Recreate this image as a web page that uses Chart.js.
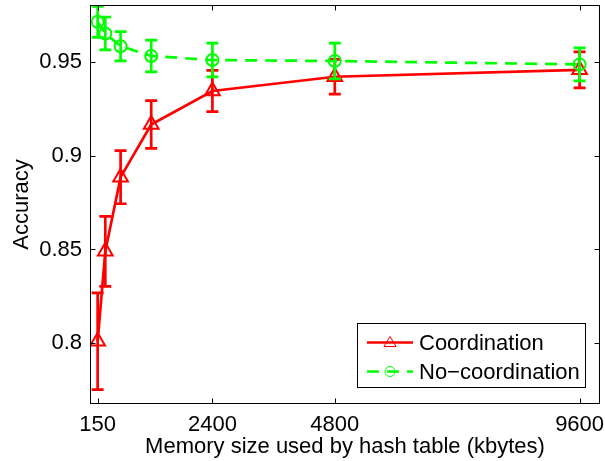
<!DOCTYPE html>
<html>
<head>
<meta charset="utf-8">
<script src="https://cdn.jsdelivr.net/npm/chart.js@4.4.0/dist/chart.umd.min.js"></script>
<style>
  body { margin: 0; background: #fff; }
  #wrap { width: 605px; height: 461px; }
</style>
</head>
<body>
<div id="wrap"><canvas id="myChart"></canvas></div>
<script>
// memory size (kbytes) and mean accuracy with error bar half-widths
const memorySizes = [150, 300, 600, 1200, 2400, 4800, 9600];
const coordAccuracy = [0.801, 0.849, 0.8886, 0.9167, 0.9346, 0.9422, 0.9459];
const coordError = [0.0258, 0.0187, 0.0142, 0.0127, 0.011, 0.0093, 0.0096];
const noCoordAccuracy = [0.9715, 0.9653, 0.9585, 0.9533, 0.9511, 0.9506, 0.9488];
const noCoordError = [0.0083, 0.0088, 0.0078, 0.0085, 0.009, 0.0095, 0.0088];
const xTicks = [150, 2400, 4800, 9600];
const yTicks = [0.8, 0.85, 0.9, 0.95];

const RED = "rgb(255,0,0)";
const GREEN = "rgb(0,255,0)";
const FONT = "'Liberation Sans', Arial, Helvetica, sans-serif";
const FONT_SIZE = 22;

Chart.defaults.font.family = FONT;
Chart.defaults.color = "#000";

function toPoints(values) {
  return memorySizes.map((x, i) => ({ x: x, y: values[i] }));
}

// vertical error bars with caps, drawn right after each dataset
const errorBars = {
  id: 'errorBars',
  afterDatasetDraw(chart, args) {
    const ds = chart.data.datasets[args.index];
    if (!ds.errors) return;
    const ctx = chart.ctx;
    const yScale = chart.scales.y;
    ctx.save();
    ctx.strokeStyle = ds.borderColor;
    ctx.lineWidth = 2.7;
    ctx.setLineDash([]);
    args.meta.data.forEach((pt, i) => {
      const v = ds.data[i].y;
      const top = yScale.getPixelForValue(v + ds.errors[i]);
      const bottom = yScale.getPixelForValue(v - ds.errors[i]);
      ctx.beginPath();
      ctx.moveTo(pt.x, top);
      ctx.lineTo(pt.x, bottom);
      ctx.moveTo(pt.x - 6, top);
      ctx.lineTo(pt.x + 6, top);
      ctx.moveTo(pt.x - 6, bottom);
      ctx.lineTo(pt.x + 6, bottom);
      ctx.stroke();
    });
    ctx.restore();
  }
};

// axes box with inward ticks on all four sides
const boxTicks = {
  id: 'boxTicks',
  afterDatasetsDraw(chart) {
    const ctx = chart.ctx;
    const a = chart.chartArea;
    const xs = chart.scales.x, ys = chart.scales.y;
    const L = Math.round(a.left) + 0.5, R = Math.round(a.right) - 0.5;
    const T = Math.round(a.top) + 0.5, B = Math.round(a.bottom) - 0.5;
    ctx.save();
    ctx.strokeStyle = "#000";
    ctx.lineWidth = 1;
    ctx.strokeRect(L, T, R - L, B - T);
    ctx.beginPath();
    xTicks.forEach(v => {
      const x = Math.round(xs.getPixelForValue(v)) + 0.5;
      ctx.moveTo(x, B); ctx.lineTo(x, B - 5);
      ctx.moveTo(x, T); ctx.lineTo(x, T + 5);
    });
    yTicks.forEach(v => {
      const y = Math.round(ys.getPixelForValue(v)) + 0.5;
      ctx.moveTo(L, y); ctx.lineTo(L + 5, y);
      ctx.moveTo(R, y); ctx.lineTo(R - 5, y);
    });
    ctx.stroke();
    ctx.restore();
  }
};

// legend box in the lower right corner
const boxLegend = {
  id: 'boxLegend',
  afterDraw(chart) {
    const ctx = chart.ctx;
    const x0 = 357, y0 = 323, w = 228, h = 64;
    ctx.save();
    ctx.fillStyle = "#fff";
    ctx.fillRect(x0, y0, w, h);
    ctx.strokeStyle = "#000";
    ctx.lineWidth = 1;
    ctx.strokeRect(x0 + 0.5, y0 + 0.5, w, h);
    const rows = [19.5, 48.5];
    chart.data.datasets.forEach((ds, k) => {
      const y = y0 + rows[k];
      ctx.strokeStyle = ds.borderColor;
      ctx.lineWidth = 2.5;
      ctx.setLineDash(ds.borderDash || []);
      ctx.beginPath();
      ctx.moveTo(x0 + 10, y);
      ctx.lineTo(x0 + 56, y);
      ctx.stroke();
      ctx.setLineDash([]);
      ctx.lineWidth = 1;
      ctx.beginPath();
      if (ds.pointStyle === 'triangle') {
        ctx.moveTo(x0 + 33, y - 6);
        ctx.lineTo(x0 + 39, y + 4);
        ctx.lineTo(x0 + 27, y + 4);
        ctx.closePath();
      } else {
        ctx.arc(x0 + 33, y, 5, 0, Math.PI * 2);
      }
      ctx.stroke();
      ctx.fillStyle = "#000";
      ctx.font = FONT_SIZE + "px " + FONT;
      ctx.textBaseline = "middle";
      ctx.fillText(ds.label, x0 + 62, y + 1);
    });
    ctx.restore();
  }
};

const ctx = document.getElementById('myChart');
const myChart = new Chart(ctx, {
  type: 'scatter',
  data: {
    datasets: [{
      label: "Coordination",
      data: toPoints(coordAccuracy),
      errors: coordError,
      showLine: true,
      borderColor: RED,
      backgroundColor: "rgba(0,0,0,0)",
      borderWidth: 2.7,
      pointStyle: 'triangle',
      pointRadius: 8.5,
      pointBorderWidth: 2,
      pointHoverRadius: 8.5,
      order: 1
    }, {
      label: "No\u2212coordination",
      data: toPoints(noCoordAccuracy),
      errors: noCoordError,
      showLine: true,
      borderColor: GREEN,
      backgroundColor: "rgba(0,0,0,0)",
      borderWidth: 2.7,
      borderDash: [12, 8],
      pointStyle: 'circle',
      pointRadius: 6,
      pointBorderWidth: 2,
      pointHoverRadius: 6,
      order: 0
    }]
  },
  options: {
    responsive: true,
    maintainAspectRatio: false,
    animation: false,
    layout: { autoPadding: false, padding: { top: 5, right: 5, left: 0, bottom: 0 } },
    plugins: {
      legend: { display: false },
      tooltip: { enabled: false }
    },
    scales: {
      x: {
        type: 'linear',
        min: 0,
        max: 10000,
        grid: { display: false, drawTicks: false },
        border: { display: false },
        ticks: { font: { size: FONT_SIZE }, color: "#000", padding: 8, maxRotation: 0,
                  callback: v => String(v) },
        afterBuildTicks: scale => { scale.ticks = xTicks.map(v => ({ value: v })); },
        afterFit: scale => {
          scale.height = 57;
          scale.paddingLeft = 0;
          scale.paddingRight = 0;
        },
        title: { display: true, text: "Memory size used by hash table (kbytes)",
                 font: { size: FONT_SIZE }, color: "#000", padding: { top: 0, bottom: 1 } }
      },
      y: {
        min: 0.7675,
        max: 0.9805,
        grid: { display: false, drawTicks: false },
        border: { display: false },
        ticks: { font: { size: FONT_SIZE }, color: "#000", padding: 8,
                  callback: v => String(v) },
        afterBuildTicks: scale => { scale.ticks = yTicks.map(v => ({ value: v })); },
        afterFit: scale => {
          scale.width = 90;
          scale.paddingTop = 0;
          scale.paddingBottom = 0;
        },
        title: { display: true, text: "Accuracy", font: { size: FONT_SIZE }, color: "#000",
                 padding: { top: 9, bottom: 0 } }
      }
    }
  },
  plugins: [errorBars, boxTicks, boxLegend]
});
</script>
</body>
</html>
